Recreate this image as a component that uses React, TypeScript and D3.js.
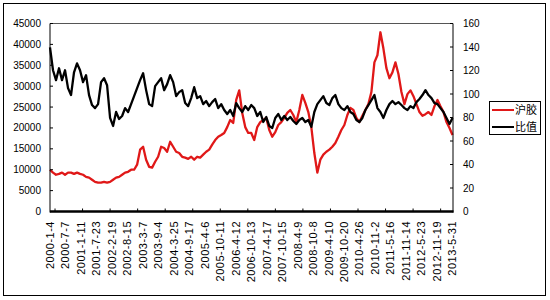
import React from "react";
import * as d3 from "d3";

const xLabels = [
  "2000-1-4", "2000-7-7", "2001-1-11", "2001-7-23", "2002-2-19", "2002-8-15",
  "2003-3-7", "2003-9-4", "2004-3-25", "2004-9-17", "2005-4-6", "2005-10-11",
  "2006-4-12", "2006-10-13", "2007-4-17", "2007-10-15", "2008-4-9", "2008-10-8",
  "2009-4-10", "2009-10-20", "2010-4-26", "2010-11-2", "2011-5-16", "2011-11-14",
  "2012-5-23", "2012-11-19", "2013-5-31",
];
const leftTicks = [0, 5000, 10000, 15000, 20000, 25000, 30000, 35000, 40000, 45000];
const rightTicks = [0, 20, 40, 60, 80, 100, 120, 140, 160];
const seriesNames = ["沪胶", "比值"];
const seriesColors = ["#e01818", "#000000"];

// 沪胶 (left axis)
const rubber = [
  10000, 9300, 8800, 9000, 9300, 8800, 9300, 9300, 9000, 9300, 9000, 8800, 8300, 8100, 7600, 7100, 6900,
  6900, 7100, 6900, 7100, 7600, 8100, 8300, 8800, 9300, 9500, 10000, 10000, 11200, 14800, 15500, 12400,
  10700, 10500, 11900, 13100, 15500, 15200, 14300, 16700, 15500, 14300, 14000, 13100, 12900, 12600, 13100,
  12400, 13100, 12900, 13600, 14300, 14800, 16000, 17100, 17900, 18300, 18800, 20200, 21900, 21200, 26700,
  29000, 23600, 20200, 18800,
  18800, 17100, 20200, 21400, 21900, 22400, 19500, 17900, 19000, 20700, 21400, 22400, 23600, 24300, 23100,
  21400, 24300, 27900, 26000, 23800, 20200, 14000, 9300, 12400, 13600, 14300, 14800, 15500, 16400, 17900,
  19500, 20700, 23100,
  24800, 24300, 22400, 21400, 22900, 24300, 25700, 28600, 35700, 37400, 42900, 39000, 34300, 31900, 33300,
  35700, 32900, 28600, 25700, 28100, 29000, 27600, 25700, 23800, 22900, 23300, 23800, 23100, 25200, 26700,
  25200, 23800, 21400, 20000, 18300,
];

// 比值 (right axis)
const ratio = [
  139.7, 120.2, 111.8, 121.9, 111.8, 120.2, 105.0, 99.1, 118.5, 126.1, 120.2, 110.1, 116.0, 99.1, 90.6, 88.0,
  91.4, 110.1, 113.4, 107.5, 79.6, 72.8, 84.7, 78.7, 81.3, 88.0, 84.7, 91.4, 98.2, 105.0, 111.8, 117.7, 103.3,
  91.4,
  89.7, 106.7, 110.1, 113.4, 103.3, 108.4, 116.0, 110.1, 98.2, 101.6, 103.3, 92.3, 89.7, 96.5, 105.8, 96.5,
  98.2, 91.4, 94.0, 89.7, 93.1, 95.7, 88.0, 91.4, 86.4, 83.0, 86.4, 81.3, 92.3, 88.0, 84.7, 89.7, 86.4,
  90.6, 88.0, 81.3, 84.7, 76.2, 80.4, 72.8, 71.1, 79.6, 83.0, 77.9, 81.3, 77.9, 80.4, 77.0, 74.5, 77.9, 79.6,
  76.2, 77.9, 72.0, 84.7, 91.4, 94.8, 98.2, 92.3, 90.6, 96.5, 99.1, 91.4, 88.0, 86.4, 89.7,
  84.7, 83.0, 77.9, 76.2, 79.6, 86.4, 90.6, 94.8, 99.1, 88.0, 84.7, 79.6, 86.4, 91.4, 94.0, 91.4, 93.1, 90.6,
  88.0, 86.4, 89.7, 88.0, 93.1, 95.7, 99.1, 103.3, 99.1, 96.5, 92.3, 91.4, 88.0, 84.7, 79.6, 74.5, 79.6,
];

const W = 550;
const H = 300;
const P = { left: 50, right: 452.5, top: 23.5, bottom: 211.5 };
const FONT = "Arial, 'Liberation Sans', sans-serif";
const CJK = "'Noto Sans CJK SC', sans-serif";

export default function App() {
  const n = rubber.length;
  const x = d3.scaleLinear().domain([0, n - 1]).range([P.left, P.right]);
  const xl = d3.scalePoint<string>().domain(xLabels).range([P.left, P.right]);
  const yL = d3.scaleLinear().domain([0, 45000]).range([P.bottom, P.top]);
  const yR = d3.scaleLinear().domain([0, 160]).range([P.bottom, P.top]);

  const lineL = d3.line<number>().x((_, i) => x(i)).y((d) => yL(d));
  const lineR = d3.line<number>().x((_, i) => x(i)).y((d) => yR(d));

  // category-axis tick marks (every ~9 samples)
  const minorTicks = d3.range(1.67, n, 9.17);

  return (
    <svg width={W} height={H} style={{ position: "absolute", left: 0, top: 0, background: "#fff" }}>
      <rect x={0} y={0} width={W} height={H} fill="#fff" />
      <rect x={3.5} y={3.5} width={542} height={292} fill="#fff" stroke="#000" strokeWidth={1} />
      {/* plot area frame */}
      <line x1={P.left} x2={P.right + 0.5} y1={P.top} y2={P.top} stroke="#555" strokeWidth={1} />

      <path d={lineL(rubber) || ""} fill="none" stroke={seriesColors[0]} strokeWidth={2.3} strokeLinejoin="round" />
      <path d={lineR(ratio) || ""} fill="none" stroke={seriesColors[1]} strokeWidth={2.3} strokeLinejoin="round" />

      {/* axes */}
      <line x1={P.left} x2={P.left} y1={P.top} y2={P.bottom + 1} stroke="#000" strokeWidth={1} />
      <line x1={P.right + 0.5} x2={P.right + 0.5} y1={P.top} y2={P.bottom + 1} stroke="#000" strokeWidth={1} />
      <line x1={P.left} x2={P.right + 1} y1={P.bottom} y2={P.bottom} stroke="#000" strokeWidth={2.5} />
      {minorTicks.map((t, i) => (
        <line key={"mt" + i} x1={x(t)} x2={x(t)} y1={P.bottom} y2={P.bottom - 3} stroke="#000" strokeWidth={1} />
      ))}

      {leftTicks.map((t) => (
        <g key={"l" + t}>
          <line x1={P.left} x2={P.left + 3} y1={yL(t)} y2={yL(t)} stroke="#000" />
          <text x={41} y={yL(t)} dy="0.35em" textAnchor="end" fontFamily={FONT} fontSize={10} fill="#000">
            {t}
          </text>
        </g>
      ))}
      {rightTicks.map((t) => (
        <g key={"r" + t}>
          <line x1={P.right + 0.5} x2={P.right - 2.5} y1={yR(t)} y2={yR(t)} stroke="#000" />
          <text x={463} y={yR(t)} dy="0.35em" textAnchor="start" fontFamily={FONT} fontSize={10} fill="#000">
            {t}
          </text>
        </g>
      ))}

      {xLabels.map((lab) => (
        <text
          key={lab}
          transform={`translate(${xl(lab)},${221}) rotate(-90)`}
          dy="0.35em"
          textAnchor="end"
          fontFamily={FONT}
          fontSize={11}
          letterSpacing={0.5}
          fill="#000"
        >
          {lab}
        </text>
      ))}

      {/* legend */}
      <rect x={489.5} y={101.5} width={51} height={33} fill="#fff" stroke="#000" strokeWidth={1} />
      {seriesNames.map((name, i) => (
        <g key={name}>
          <line x1={492} x2={514} y1={110 + i * 17} y2={110 + i * 17} stroke={seriesColors[i]} strokeWidth={2} />
          <text x={515} y={110 + i * 17} dy="0.36em" fontFamily={CJK} fontSize={11} fill="#000">
            {name}
          </text>
        </g>
      ))}
    </svg>
  );
}
